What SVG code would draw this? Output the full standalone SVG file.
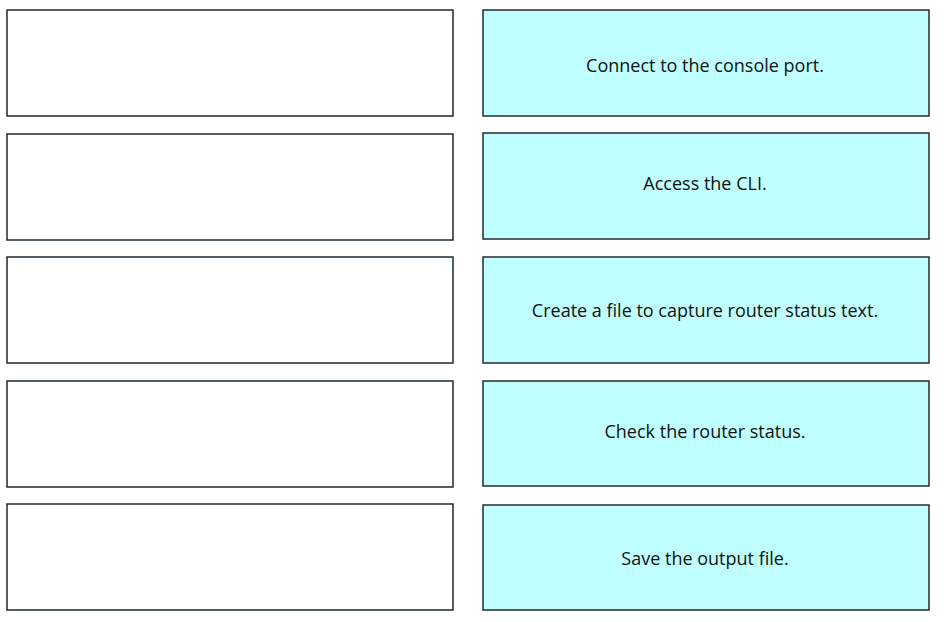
<svg xmlns="http://www.w3.org/2000/svg" width="944" height="622" viewBox="0 0 944 622">
<style>
.l{fill:#fff;stroke:#1a2a30;stroke-width:1.5}
.r{fill:#c0ffff;stroke:#2a2a2a;stroke-width:1.5}
text{font-family:"Open Sans","Liberation Sans",sans-serif;font-size:18px;fill:#111;text-anchor:middle;dominant-baseline:central}
</style>
<rect width="944" height="622" fill="#fff"/>
<g id="slot1"><rect class="l" x="7" y="10" width="446" height="106"/></g>
<g id="slot2"><rect class="l" x="7" y="134" width="446" height="106"/></g>
<g id="slot3"><rect class="l" x="7" y="257" width="446" height="106"/></g>
<g id="slot4"><rect class="l" x="7" y="381" width="446" height="106"/></g>
<g id="slot5"><rect class="l" x="7" y="504" width="446" height="106"/></g>
<g id="step1"><rect class="r" x="483" y="10" width="446" height="106"/><text x="705" y="65">Connect to the console port.</text></g>
<g id="step2"><rect class="r" x="483" y="133" width="446" height="106"/><text x="705" y="183">Access the CLI.</text></g>
<g id="step3"><rect class="r" x="483" y="257" width="446" height="106"/><text x="705" y="310">Create a file to capture router status text.</text></g>
<g id="step4"><rect class="r" x="483" y="381" width="446" height="105"/><text x="705" y="431">Check the router status.</text></g>
<g id="step5"><rect class="r" x="483" y="505" width="446" height="105"/><text x="705" y="558">Save the output file.</text></g>
<g id="connectors"></g>
</svg>
